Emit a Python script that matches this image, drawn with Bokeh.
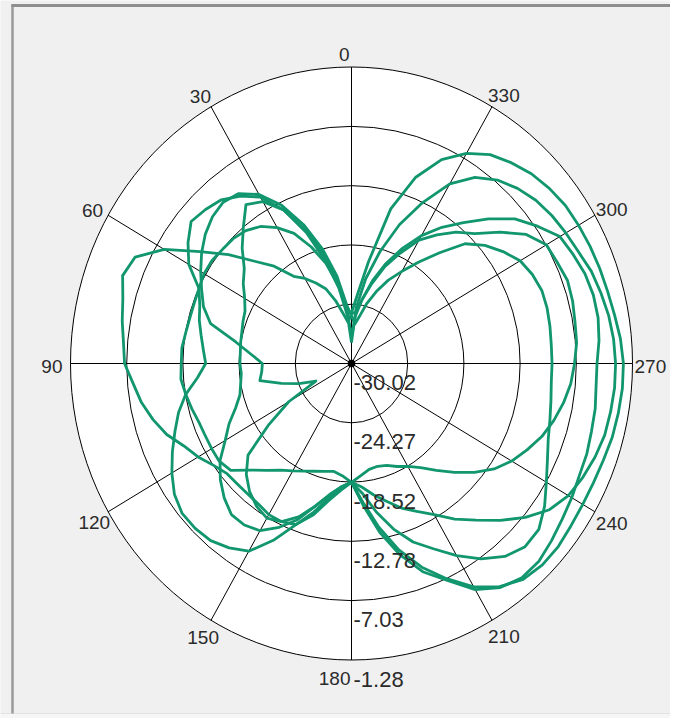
import math
from bokeh.plotting import figure
from bokeh.models import Range1d
from bokeh.core.properties import value
from bokeh.embed import file_html
from bokeh.resources import INLINE

# ---- data (angle in degrees, level in dB) ----
angles = list(range(0, 360, 5))

trace_1 = [-25.2, -26.0, -25.1, -23.7, -22.3, -21.4, -20.5, -19.7, -17.7, -16.0, -13.6, -11.1,
           -7.9, -5.6, -5.1, -5.8, -6.2, -6.6, -6.8, -7.6, -8.2, -9.0, -9.9, -11.1,
           -11.9, -12.8, -13.4, -13.5, -13.5, -13.4, -13.1, -13.1, -13.4, -14.8, -16.5, -17.7,
           -18.5, -19.1, -19.6, -19.7, -19.5, -19.0, -18.5, -17.7, -16.5, -15.1, -13.6, -12.2,
           -11.1, -10.2, -9.3, -8.6, -8.0, -7.5, -7.2, -6.9, -6.8, -6.6, -6.5, -6.8,
           -7.0, -8.2, -10.2, -12.2, -13.4, -14.8, -16.2, -18.2, -20.0, -22.0, -23.7, -25.0]

trace_2 = [-28.0, -25.4, -22.6, -19.7, -16.5, -13.6, -11.4, -10.2, -9.3, -8.9, -8.6, -9.6,
           -10.8, -12.8, -13.5, -13.9, -14.4, -14.8, -15.1, -14.2, -12.8, -11.7, -10.8, -9.8,
           -8.8, -7.9, -7.4, -7.4, -7.6, -8.2, -9.0, -11.1, -13.4, -15.1, -16.8, -18.0,
           -18.5, -18.0, -17.1, -16.2, -15.1, -14.2, -13.1, -11.6, -10.2, -8.5, -6.8, -5.3,
           -4.4, -3.9, -3.5, -3.2, -3.1, -3.0, -3.0, -3.1, -3.3, -3.6, -3.9, -4.4,
           -4.7, -5.0, -5.4, -6.0, -6.8, -8.0, -9.9, -12.8, -15.7, -18.8, -21.7, -24.6]

trace_3 = [-25.4, -24.3, -21.4, -18.5, -15.7, -13.1, -11.1, -9.9, -9.6, -9.9, -10.5, -11.3,
           -12.2, -13.1, -13.9, -15.1, -18.0, -19.7, -20.9, -20.8, -20.5, -22.6, -24.3, -26.0,
           -22.6, -19.7, -16.2, -14.8, -13.8, -13.1, -12.7, -13.1, -14.2, -15.7, -17.1, -18.0,
           -18.5, -17.4, -15.4, -13.4, -11.6, -10.2, -8.5, -6.9, -5.6, -4.9, -5.0, -5.9,
           -7.0, -7.9, -8.6, -9.0, -9.3, -9.5, -9.5, -9.5, -9.4, -9.3, -9.3, -9.6,
           -10.1, -11.1, -12.2, -13.6, -16.0, -18.0, -19.7, -21.1, -22.6, -24.0, -25.4, -26.2]

trace_4 = [-27.4, -24.9, -22.3, -20.0, -18.0, -16.1, -14.8, -13.8, -13.2, -12.9, -12.8, -12.6,
           -12.6, -12.8, -12.9, -12.9, -12.8, -12.6, -12.6, -12.5, -12.8, -13.1, -13.4, -13.5,
           -13.5, -13.5, -13.9, -15.4, -16.5, -17.4, -18.0, -18.5, -18.9, -19.2, -19.4, -19.1,
           -18.5, -16.2, -13.4, -10.8, -8.5, -6.8, -4.7, -3.5, -2.9, -2.9, -3.3, -3.7,
           -4.0, -4.3, -4.4, -4.6, -4.7, -4.9, -4.9, -4.6, -4.4, -4.4, -4.6, -5.0,
           -5.4, -6.8, -8.2, -10.2, -12.2, -13.9, -15.7, -17.7, -19.7, -21.7, -23.7, -25.4]

trace_5 = [-25.1, -24.9, -22.0, -19.1, -16.2, -13.6, -11.9, -11.2, -12.8, -14.2, -15.7, -16.5,
           -17.4, -18.0, -18.2, -18.4, -18.5, -18.6, -18.6, -18.7, -18.5, -18.2, -17.4, -16.2,
           -15.1, -13.6, -12.5, -11.6, -10.9, -10.9, -11.3, -12.5, -13.9, -15.7, -17.1, -18.0,
           -18.5, -16.5, -13.9, -11.3, -9.0, -7.0, -5.0, -3.6, -2.7, -2.4, -2.4, -2.6,
           -2.7, -2.7, -2.6, -2.4, -2.3, -2.2, -2.2, -2.4, -2.7, -2.9, -3.0, -3.1,
           -3.2, -3.3, -3.6, -4.0, -4.6, -5.3, -6.5, -8.2, -10.8, -14.5, -20.0, -23.4]

traces = [trace_1, trace_2, trace_3, trace_4, trace_5]

ring_values = [-30.02, -24.27, -18.52, -12.78, -7.03, -1.28]
ring_labels = ["-30.02", "-24.27", "-18.52", "-12.78", "-7.03", "-1.28"]
spoke_angles = [0, 30, 60, 90, 120, 150, 180, 210, 240, 270, 300, 330]
spoke_labels = ["0", "30", "60", "90", "120", "150", "180", "210", "240", "270", "300", "330"]

# ---- layout / style ----
W, H = 670, 718
CX, CY = 351, 363          # centre of the polar grid in canvas pixels
SX, SY = 56.2, 59.3        # pixels per ring step (horizontal, vertical)
GREEN = "#11966e"
BG = "#f0f0f0"
TXT = "#2b2b2b"
ANGLE_FONT = value("Liberation Sans Narrow, Liberation Sans, sans-serif")
RADIAL_FONT = value("Liberation Sans, Arial, sans-serif")

# label anchor per angle: (align, x_off px, y_off px) -- baseline is middle
label_style = {
    0: ("right", -2, -13),
    30: ("right", 0, -10),
    60: ("right", -5, -5),
    90: ("right", -8, 2.5),
    120: ("right", 2, 11),
    150: ("right", 8, 17),
    180: ("right", -1, 18.5),
    210: ("left", -4, 16),
    240: ("left", 1, 12),
    270: ("left", 2, 3),
    300: ("left", 1, -6),
    330: ("left", -4, -11),
}

step = ring_values[1] - ring_values[0]
n_rings = len(ring_values) - 1


def to_r(db):
    return max(0.0, (db - ring_values[0]) / step)


def to_xy(theta_deg, r):
    t = math.radians(theta_deg)
    return -r * math.sin(t), r * math.cos(t)


def px_x(px):
    return (px - CX) / SX


def px_y(py):
    return (CY - py) / SY


p = figure(width=W, height=H,
           x_range=Range1d(px_x(0), px_x(W)),
           y_range=Range1d(px_y(H), px_y(0)),
           output_backend="svg", toolbar_location=None, min_border=0)
p.axis.visible = False
p.grid.visible = False
p.outline_line_color = None
p.background_fill_color = BG
p.border_fill_color = BG

# window frame: lighter strip at the bottom, grey borders top and left
p.quad(left=[px_x(0)], right=[px_x(W)], top=[px_y(713)], bottom=[px_y(H)],
       fill_color="#f6f6f6", line_color=None)
p.segment(x0=[px_x(0)], y0=[px_y(713)], x1=[px_x(W)], y1=[px_y(713)],
          line_color="#e2e2e2", line_width=1)
p.segment(x0=[px_x(12)], y0=[px_y(4)], x1=[px_x(12)], y1=[px_y(713)],
          line_color="#9a9a9a", line_width=2.5)
p.segment(x0=[px_x(11)], y0=[px_y(5)], x1=[px_x(W)], y1=[px_y(5)],
          line_color="#8e8e8e", line_width=3)

# white disk and rings
p.ellipse(x=[0], y=[0], width=[2 * n_rings], height=[2 * n_rings],
          fill_color="white", line_color=None)
ks = list(range(1, n_rings + 1))
p.ellipse(x=[0] * len(ks), y=[0] * len(ks), width=[2 * k for k in ks], height=[2 * k for k in ks],
          fill_color=None, line_color="black", line_width=1)

# spokes
x1s, y1s = [], []
for a in spoke_angles:
    x, y = to_xy(a, n_rings)
    x1s.append(x)
    y1s.append(y)
p.segment(x0=[0] * len(spoke_angles), y0=[0] * len(spoke_angles), x1=x1s, y1=y1s,
          line_color="black", line_width=1)

# traces
for tr in traces:
    xs, ys = [], []
    for a, db in zip(angles + [angles[0]], tr + [tr[0]]):
        x, y = to_xy(a, to_r(db))
        xs.append(x)
        ys.append(y)
    p.line(xs, ys, line_color=GREEN, line_width=2.8, line_join="round")

# centre dot
p.scatter(x=[0], y=[0], size=7, color="black")

# angle labels
for a, lab in zip(spoke_angles, spoke_labels):
    x, y = to_xy(a, n_rings)
    al, xo, yo = label_style[a]
    p.text(x=[x], y=[y], text=[lab], text_align=al, text_baseline="middle",
           x_offset=xo, y_offset=yo, text_font=ANGLE_FONT, text_font_size="19px",
           text_color=TXT)

# radial value labels (below each ring on the 180 spoke)
for k, lab in enumerate(ring_labels):
    p.text(x=[0], y=[-k], text=[lab], text_align="left", text_baseline="middle",
           x_offset=2, y_offset=19, text_font=RADIAL_FONT, text_font_size="22px",
           text_color=TXT)

open("out.html", "w").write(file_html(p, INLINE))
